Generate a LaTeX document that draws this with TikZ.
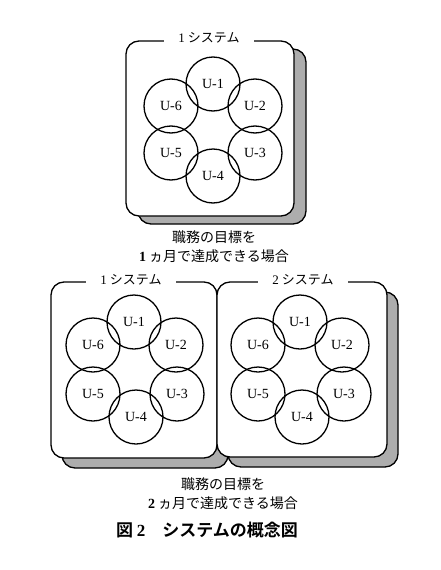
\documentclass[tikz,border=0pt]{standalone}
\usepackage{fontspec}
\setmainfont{Liberation Serif}
\newfontfamily\jpfont[BoldFont={Noto Sans CJK JP Bold}]{Noto Sans CJK JP}
\usetikzlibrary{shapes}

\begin{document}
\begin{tikzpicture}[x=1pt,y=-1pt]
      \tikzstyle{unit} = [circle, draw, line width=1.3pt, minimum size=54pt, inner sep=0pt, font=\fontsize{14}{14}\selectfont]
      \tikzstyle{box} = [rectangle, draw, line width=1.3pt, rounded corners=13pt, fill=white]
      \tikzstyle{shade} = [box, fill=black!32]
      \tikzstyle{title} = [fill=white, inner xsep=14pt, inner ysep=2pt, font=\jpfont\fontsize{13}{13}\selectfont]
      \tikzstyle{note} = [align=center, font=\jpfont\fontsize{14}{19}\selectfont]
      \useasboundingbox[fill=white] (0,0) rectangle (440,570);
      % one system
      \node (s1shade) [shade, minimum width=168pt, minimum height=175pt] at (222,136.5) {};
      \node (s1) [box, minimum width=168pt, minimum height=175pt] at (210,128.5) {};
      \node (s1title) [title] at (209,38) {{\rmfamily 1} システム};
      \begin{scope}[shift={(213,130)}]
        \foreach \i/\dx/\dy in {1/0/-46, 2/42/-24, 3/42/23, 4/0/46, 5/-42/23, 6/-42/-24}
          \node (a\i) [unit] at (\dx,\dy) {U-\i};
      \end{scope}
      \node (note1) [note] at (214,247) {職務の目標を\\{\rmfamily\bfseries 1} ヵ月で達成できる場合};
      % two systems
      \node (s2shade) [shade, minimum width=166pt, minimum height=176pt] at (145,380) {};
      \node (s3shade) [shade, minimum width=170pt, minimum height=175pt] at (313,379.5) {};
      \node (s2) [box, minimum width=166pt, minimum height=176pt] at (134,370) {};
      \node (s3) [box, minimum width=170pt, minimum height=175pt] at (302,369.5) {};
      \node (s2title) [title] at (131,280) {{\rmfamily 1} システム};
      \node (s3title) [title] at (303,280) {{\rmfamily 2} システム};
      \begin{scope}[shift={(135,370)}]
        \foreach \i/\dx/\dy in {1/-1/-48, 2/41/-25, 3/42/24, 4/1/47, 5/-42/24, 6/-42/-25}
          \node (b\i) [unit] at (\dx,\dy) {U-\i};
      \end{scope}
      \begin{scope}[shift={(301,370)}]
        \foreach \i/\dx/\dy in {1/-1/-48, 2/41/-25, 3/43/24, 4/1/47, 5/-43/24, 6/-43/-25}
          \node (c\i) [unit] at (\dx,\dy) {U-\i};
      \end{scope}
      \node (note2) [note] at (223,494) {職務の目標を\\{\rmfamily\bfseries 2} ヵ月で達成できる場合};
      % caption
      \node (caption) at (207,530) {\jpfont\bfseries\fontsize{17}{17}\selectfont 図 {\rmfamily 2}　システムの概念図};
    \end{tikzpicture}
\end{document}
